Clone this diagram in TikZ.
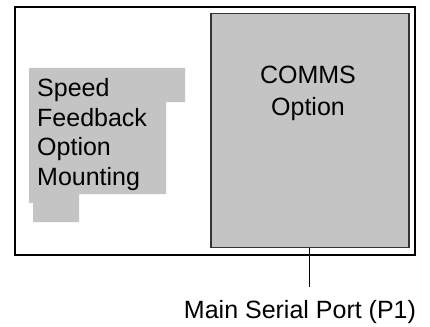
\documentclass[tikz,border=0pt]{standalone}
\usepackage{fontspec}
\setmainfont{Liberation Sans}
\definecolor{panelgray}{RGB}{196,196,196}

\begin{document}
\begin{tikzpicture}[x=1pt, y=-1pt]
			\useasboundingbox (0,0) rectangle (430,326);
			\draw[line width=1.4pt] (15,7) rectangle (415,255);
			\fill[panelgray] (29,68) -- (185,68) -- (185,102) -- (166,102) -- (166,194) -- (79,194) -- (79,222) -- (33,222) -- (33,203) -- (29,203) -- cycle;
			\node[anchor=base west, align=left, inner sep=0pt, font=\fontsize{25}{29.5}\selectfont](speed) at (37,185){Speed\\Feedback\\Option\\Mounting};
			\node[rectangle, fill=panelgray, draw=black!80, line width=1.6pt, minimum width=198pt, minimum height=234pt, inner sep=0pt, anchor=north west](comms) at (210,12.7){};
			\node[anchor=base, align=center, inner sep=0pt, font=\fontsize{25}{32}\selectfont](commstext) at (308,115){COMMS\\Option};
			\node[anchor=base, inner sep=0pt, font=\fontsize{25}{30}\selectfont](port) at (300,318){Main Serial Port (P1)};
			\draw[line width=0.9pt] (comms.south) -- (comms.south |- 0,287);
			\end{tikzpicture}
\end{document}
